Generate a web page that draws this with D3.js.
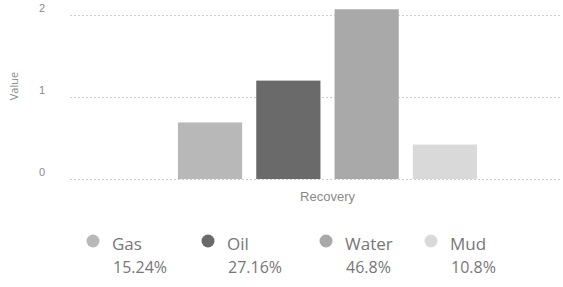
<!DOCTYPE html>
<html>
<head>
<meta charset="utf-8">
<script src="https://cdn.jsdelivr.net/npm/d3@7"></script>
<style>
  html, body { margin: 0; padding: 0; background: #fff; }
  svg { display: block; font-family: "Open Sans", sans-serif; }
</style>
</head>
<body>
<svg id="chart" width="563" height="287"></svg>
<script>
// ---- data ----
const groups = ["Recovery"];
const seriesNames = ["Gas", "Oil", "Water", "Mud"];
const seriesValues = [0.69, 1.2, 2.07, 0.42];
const seriesPercents = ["15.24%", "27.16%", "46.8%", "10.8%"];
const seriesColors = ["#b8b8b8", "#6a6a6a", "#a9a9a9", "#d9d9d9"];
const yTicks = [0, 1, 2];
const yTitle = "Value";

const svg = d3.select("#chart");
const plot = { left: 70, right: 562, top: 15, bottom: 179 };

const x0 = d3.scaleBand().domain(groups)
  .range([plot.left + 23, plot.right])
  .paddingInner(0).paddingOuter(0.284);
const x1 = d3.scaleBand().domain(seriesNames)
  .range([0, x0.bandwidth()]).paddingInner(0.18).paddingOuter(0);
const y = d3.scaleLinear().domain([0, 2]).range([plot.bottom, plot.top]);

// gridlines
const yAxis = d3.axisLeft(y).tickValues(yTicks)
  .tickSize(-(plot.right - plot.left)).tickPadding(25)
  .tickFormat(d3.format("d"));
const gy = svg.append("g").attr("transform", `translate(${plot.left},0)`).call(yAxis);
gy.select(".domain").remove();
gy.selectAll(".tick line").attr("stroke", "#cfcfcf").attr("stroke-dasharray", "2,2");
gy.selectAll(".tick text").attr("fill", "#8a8a8a").attr("font-size", 11).attr("dy", "-0.3em");

// y title
svg.append("text")
  .attr("transform", `translate(18,86) rotate(-90)`)
  .attr("text-anchor", "middle").attr("font-size", 11).attr("fill", "#8a8a8a")
  .text(yTitle);

// bars
const data = seriesNames.map((n, i) => ({ name: n, value: seriesValues[i], color: seriesColors[i] }));
const g = svg.append("g").attr("transform", `translate(${x0(groups[0])},0)`);
g.selectAll("rect").data(data).join("rect")
  .attr("x", d => x1(d.name))
  .attr("width", x1.bandwidth())
  .attr("y", d => y(d.value))
  .attr("height", d => y(0) - y(d.value))
  .attr("fill", d => d.color);

// x axis label
const xAxis = d3.axisBottom(x0).tickSize(0).tickPadding(13);
const gx = svg.append("g").attr("transform", `translate(0,${plot.bottom})`).call(xAxis);
gx.select(".domain").remove();
gx.selectAll(".tick text").attr("fill", "#8a8a8a").attr("font-size", 13);

// legend
const legendX = [93, 208, 326, 431];
const lg = svg.append("g").selectAll("g").data(data).join("g")
  .attr("transform", (d, i) => `translate(${legendX[i]},241)`);
lg.append("circle").attr("r", 6.5).attr("fill", d => d.color);
lg.append("text").attr("x", 19).attr("y", 9).attr("font-size", 17).attr("fill", "#777")
  .text(d => d.name);
lg.append("text").attr("x", 20).attr("y", 32).attr("font-size", 16).attr("fill", "#777")
  .text((d, i) => seriesPercents[i]);
</script>
</body>
</html>
